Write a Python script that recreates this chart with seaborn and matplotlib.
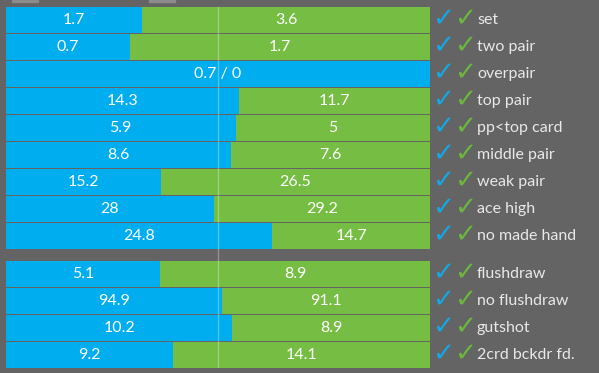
import matplotlib
matplotlib.use("Agg")
import matplotlib.pyplot as plt
import seaborn as sns
import pandas as pd

# made hands
made_hands = ["set", "two pair", "overpair", "top pair", "pp<top card",
              "middle pair", "weak pair", "ace high", "no made hand"]
made_blue = [1.7, 0.7, 0.7, 14.3, 5.9, 8.6, 15.2, 28, 24.8]
made_green = [3.6, 1.7, 0, 11.7, 5, 7.6, 26.5, 29.2, 14.7]

# draws
draw_hands = ["flushdraw", "no flushdraw", "gutshot", "2crd bckdr fd."]
draw_blue = [5.1, 94.9, 10.2, 9.2]
draw_green = [8.9, 91.1, 8.9, 14.1]

BLUE = "#00adee"
GREEN = "#76bd43"
BG = "#646464"
GAP = 1.41  # spacing between the two groups, in rows

hands = made_hands + draw_hands
blue = made_blue + draw_blue
green = made_green + draw_green
pos = list(range(len(made_hands))) + [len(made_hands) - 1 + GAP + i for i in range(len(draw_hands))]

df = pd.DataFrame({"hand": hands, "blue": blue, "green": green, "pos": pos})
df["frac"] = df["blue"] / (df["blue"] + df["green"])
df["full"] = 1.0

sns.set_style("white")
plt.rcParams["font.family"] = ["Lato", "DejaVu Sans"]

fig = plt.figure(figsize=(5.99, 3.73), dpi=100, facecolor=BG)
ax = fig.add_axes([6 / 599, 5 / 373, 424 / 599, 361 / 373])
ax.set_facecolor(BG)

h = 26 / 27
sns.barplot(data=df, x="full", y="pos", orient="y", native_scale=True, color=GREEN,
            saturation=1, width=h, errorbar=None, linewidth=0, ax=ax)
sns.barplot(data=df, x="frac", y="pos", orient="y", native_scale=True, color=BLUE,
            saturation=1, width=h, errorbar=None, linewidth=0, ax=ax)

ax.set_xlim(0, 1)
ax.set_ylim(pos[-1] + h / 2, -h / 2)
ax.axvline(0.5, color="white", alpha=0.3, lw=1, zorder=3)
ax.axis("off")

fs = 11.5
for _, r in df.iterrows():
    if r["green"] == 0:
        ax.text(0.5, r["pos"], f"{r['blue']:g} / {r['green']:g}", color="white",
                fontsize=fs, ha="center", va="center", zorder=4)
    else:
        ax.text(r["frac"] / 2, r["pos"], f"{r['blue']:g}", color="white",
                fontsize=fs, ha="center", va="center", zorder=4)
        ax.text((1 + r["frac"]) / 2, r["pos"], f"{r['green']:g}", color="white",
                fontsize=fs, ha="center", va="center", zorder=4)
    ax.text(1 + 13 / 424, r["pos"] - 0.04, "\u2713", color="#14a8e6", fontsize=19,
            ha="center", va="center", family="DejaVu Sans", fontweight="bold", clip_on=False)
    ax.text(1 + 35 / 424, r["pos"] - 0.04, "\u2713", color="#6bb83e", fontsize=19,
            ha="center", va="center", family="DejaVu Sans", fontweight="bold", clip_on=False)
    ax.text(1 + 47 / 424, r["pos"], r["hand"], color="#e8e8e8", fontsize=fs,
            ha="left", va="center", clip_on=False)

# cut-off buttons at the top edge
for x0 in (12, 149):
    fig.patches.append(plt.Rectangle((x0 / 599, 371 / 373), 26 / 599, 2 / 373,
                                     transform=fig.transFigure, color="#8c8c8c"))

fig.savefig("out.png", dpi=100, facecolor=BG)
